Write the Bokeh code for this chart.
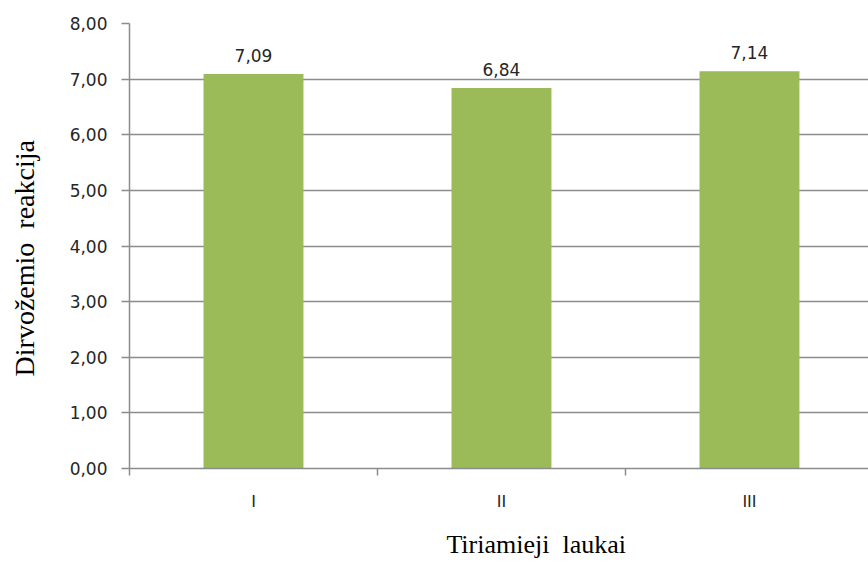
from bokeh.plotting import figure
from bokeh.models import Range1d, FixedTicker, LinearAxis, ColumnDataSource
from bokeh.core.properties import value
from bokeh.embed import file_html
from bokeh.resources import INLINE

categories = ["I", "II", "III"]
values = [7.09, 6.84, 7.14]
y_ticks = [0, 1, 2, 3, 4, 5, 6, 7, 8]
y_tick_labels = ["0,00", "1,00", "2,00", "3,00", "4,00", "5,00", "6,00", "7,00", "8,00"]
x_title = "Tiriamieji\u00a0\u00a0laukai"
y_title = "Dirvožemio\u00a0\u00a0reakcija"

xpos = [i + 0.5 for i in range(len(categories))]
labels = [f"{v:.2f}".replace(".", ",") for v in values]
src = ColumnDataSource(dict(x=xpos, top=values, lab=labels))

p = figure(width=868, height=561, output_backend="svg", toolbar_location=None,
           x_range=Range1d(0, 2.98), y_range=Range1d(0, 8),
           min_border_left=129, min_border_right=0, min_border_top=23, min_border_bottom=93)
p.outline_line_color = None
p.background_fill_color = "white"
p.border_fill_color = "white"

p.vbar(x="x", top="top", width=0.403, bottom=0, source=src, fill_color="#9BBB59", line_color=None)
p.text(x="x", y="top", text="lab", source=src, text_align="center", text_baseline="bottom",
       y_offset=-12, text_font=value("DejaVu Sans"), text_font_size="17px", text_color="#262626")

grid_col = "#8c8c8c"
p.xgrid.grid_line_color = None
p.ygrid.grid_line_color = grid_col
p.ygrid.grid_line_width = 1.5
p.ygrid.ticker = FixedTicker(ticks=y_ticks)

ya = p.yaxis[0]
ya.ticker = FixedTicker(ticks=y_ticks)
ya.major_label_overrides = {t: l for t, l in zip(y_ticks, y_tick_labels)}
ya.axis_line_color = grid_col
ya.axis_line_width = 1.5
ya.major_tick_line_color = grid_col
ya.major_tick_line_width = 1.5
ya.major_tick_out = 8
ya.major_tick_in = 0
ya.minor_tick_line_color = None
ya.major_label_standoff = 14
ya.major_label_text_font = "DejaVu Sans"
ya.major_label_text_font_size = "17px"
ya.major_label_text_color = "#262626"

xa = p.xaxis[0]
xa.ticker = FixedTicker(ticks=xpos, minor_ticks=[0, 1, 2, 3])
xa.major_label_overrides = {x: c for x, c in zip(xpos, categories)}
xa.axis_line_color = grid_col
xa.axis_line_width = 1.5
xa.major_tick_line_color = None
xa.minor_tick_line_color = grid_col
xa.minor_tick_line_width = 1.5
xa.minor_tick_out = 7
xa.minor_tick_in = 0
xa.major_label_standoff = 16
xa.major_label_text_font = "DejaVu Sans"
xa.major_label_text_font_size = "16px"
xa.major_label_text_color = "#262626"

# axis titles, placed as single-label axes so they can sit off-centre like the original
x_title_at = 1.64
y_title_at = 3.78

xt = LinearAxis(ticker=FixedTicker(ticks=[x_title_at], minor_ticks=[]),
                major_label_overrides={x_title_at: x_title})
yt = LinearAxis(ticker=FixedTicker(ticks=[y_title_at], minor_ticks=[]),
                major_label_overrides={y_title_at: y_title},
                major_label_orientation="vertical")
for ax, so, fs in ((xt, 16, "26px"), (yt, 26, "28px")):
    ax.axis_line_color = None
    ax.major_tick_line_color = None
    ax.minor_tick_line_color = None
    ax.major_tick_out = 0
    ax.major_tick_in = 0
    ax.major_label_standoff = so
    ax.major_label_text_font = "Liberation Serif"
    ax.major_label_text_font_size = fs
    ax.major_label_text_color = "#000000"
p.add_layout(xt, "below")
p.add_layout(yt, "left")

open("out.html", "w").write(file_html(p, INLINE))
